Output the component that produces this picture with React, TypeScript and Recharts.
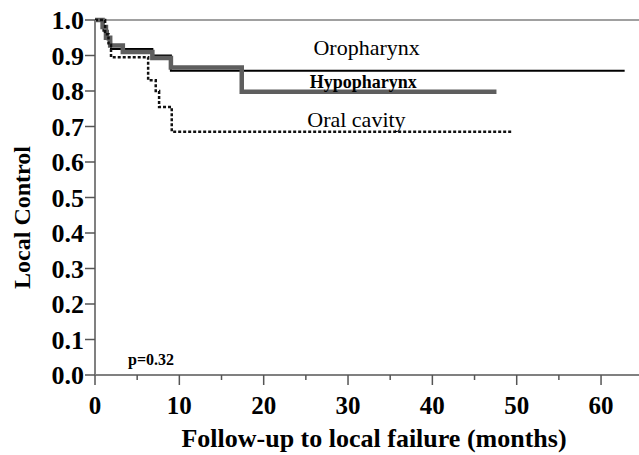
import { LineChart, Line, XAxis, YAxis, ReferenceLine, ReferenceDot, Label } from "recharts";

const SERIF = "'Liberation Serif', 'Times New Roman', serif";

// Kaplan-Meier steps (months, local control)
const oroMonths = [0, 1.0, 1.5, 1.9, 6.8, 9.0, 62.8];
const oroControl = [1.0, 0.97, 0.945, 0.918, 0.9, 0.857, 0.857];

const hypoMonths = [0, 0.9, 1.3, 1.8, 3.3, 6.8, 9.0, 17.4, 47.6];
const hypoControl = [1.0, 0.98, 0.95, 0.928, 0.91, 0.893, 0.866, 0.798, 0.798];

const oralMonths = [0, 1.2, 1.6, 1.9, 6.3, 7.2, 7.6, 9.1, 49.5];
const oralControl = [1.0, 0.96, 0.93, 0.895, 0.83, 0.8, 0.755, 0.685, 0.685];

const xTicks = [0, 5, 10, 15, 20, 25, 30, 35, 40, 45, 50, 55, 60];
const yTicks = [0, 0.1, 0.2, 0.3, 0.4, 0.5, 0.6, 0.7, 0.8, 0.9, 1.0];

const toRows = (months: number[], vals: number[]) =>
  months.map((m, i) => ({ m, v: vals[i] }));

const oroData = toRows(oroMonths, oroControl);
const hypoData = toRows(hypoMonths, hypoControl);
const oralData = toRows(oralMonths, oralControl);

function XTick({ x, y, payload }: any) {
  const major = payload.value % 10 === 0;
  return (
    <g>
      <line x1={x} x2={x} y1={y} y2={y + (major ? 10 : 5)} stroke="#555" strokeWidth={1.5} />
      {major && (
        <text x={x} y={y + 39} textAnchor="middle" fontFamily={SERIF} fontWeight="bold" fontSize={25} fill="#000">
          {payload.value}
        </text>
      )}
    </g>
  );
}

function YTick({ x, y, payload }: any) {
  return (
    <g>
      <line x1={x - 10} x2={x} y1={y} y2={y} stroke="#555" strokeWidth={1.5} />
      <text x={x - 11} y={y + 9} textAnchor="end" fontFamily={SERIF} fontWeight="bold" fontSize={26} fill="#000">
        {payload.value.toFixed(1)}
      </text>
    </g>
  );
}

function YTitle({ viewBox }: any) {
  const cx = viewBox.x + 22;
  const cy = viewBox.y + viewBox.height / 2 + 20;
  return (
    <text x={cx} y={cy} transform={`rotate(-90, ${cx}, ${cy})`} textAnchor="middle" dominantBaseline="central"
      fontFamily={SERIF} fontWeight="bold" fontSize={24} fill="#000">
      Local Control
    </text>
  );
}

function XTitle({ viewBox }: any) {
  const cx = viewBox.x + viewBox.width / 2 + 7;
  return (
    <text x={cx} y={viewBox.y + 72} textAnchor="middle" fontFamily={SERIF} fontWeight="bold" fontSize={26} fill="#000">
      Follow-up to local failure (months)
    </text>
  );
}

const curveLabel = (value: string, size: number, weight: string) => ({
  value,
  position: "center" as const,
  fontFamily: SERIF,
  fontSize: size,
  fontWeight: weight,
  fill: "#000",
});

export default function App() {
  return (
    <div style={{ position: "absolute", left: 0, top: 0, width: 639, height: 455, background: "#fff" }}>
      <LineChart width={639} height={455} margin={{ top: 20, right: 0, bottom: 0, left: 0 }}>
        <XAxis
          dataKey="m"
          type="number"
          domain={[0, 64.5]}
          ticks={xTicks}
          allowDataOverflow
          tickSize={0}
          tickMargin={0}
          tickLine={false}
          tick={<XTick />}
          axisLine={{ stroke: "#808080", strokeWidth: 2 }}
          height={80}
          interval={0}
        >
          <Label content={<XTitle />} />
        </XAxis>
        <YAxis
          type="number"
          domain={[0, 1]}
          ticks={yTicks}
          tickSize={0}
          tickMargin={0}
          tickLine={false}
          tick={<YTick />}
          axisLine={{ stroke: "#808080", strokeWidth: 2 }}
          width={95}
          interval={0}
        >
          <Label content={<YTitle />} />
        </YAxis>
        <ReferenceLine y={1} stroke="#808080" strokeWidth={1.5} />
        <Line data={oroData} dataKey="v" type="stepAfter" stroke="#000" strokeWidth={2} dot={false} isAnimationActive={false} />
        <Line data={hypoData} dataKey="v" type="stepAfter" stroke="#5e5e5e" strokeWidth={4.5} dot={false} isAnimationActive={false} />
        <Line data={oralData} dataKey="v" type="stepAfter" stroke="#111" strokeWidth={2.5} strokeDasharray="3 2" dot={false} isAnimationActive={false} />
        <ReferenceDot x={32.2} y={0.924} r={0} fill="none" stroke="none" label={curveLabel("Oropharynx", 22, "normal")} />
        <ReferenceDot x={31.8} y={0.827} r={0} fill="none" stroke="none" label={curveLabel("Hypopharynx", 18, "bold")} />
        <ReferenceDot x={31.0} y={0.72} r={0} fill="none" stroke="none" label={curveLabel("Oral cavity", 22, "normal")} />
        <ReferenceDot x={6.65} y={0.045} r={0} fill="none" stroke="none" label={curveLabel("p=0.32", 16, "bold")} />
      </LineChart>
    </div>
  );
}
